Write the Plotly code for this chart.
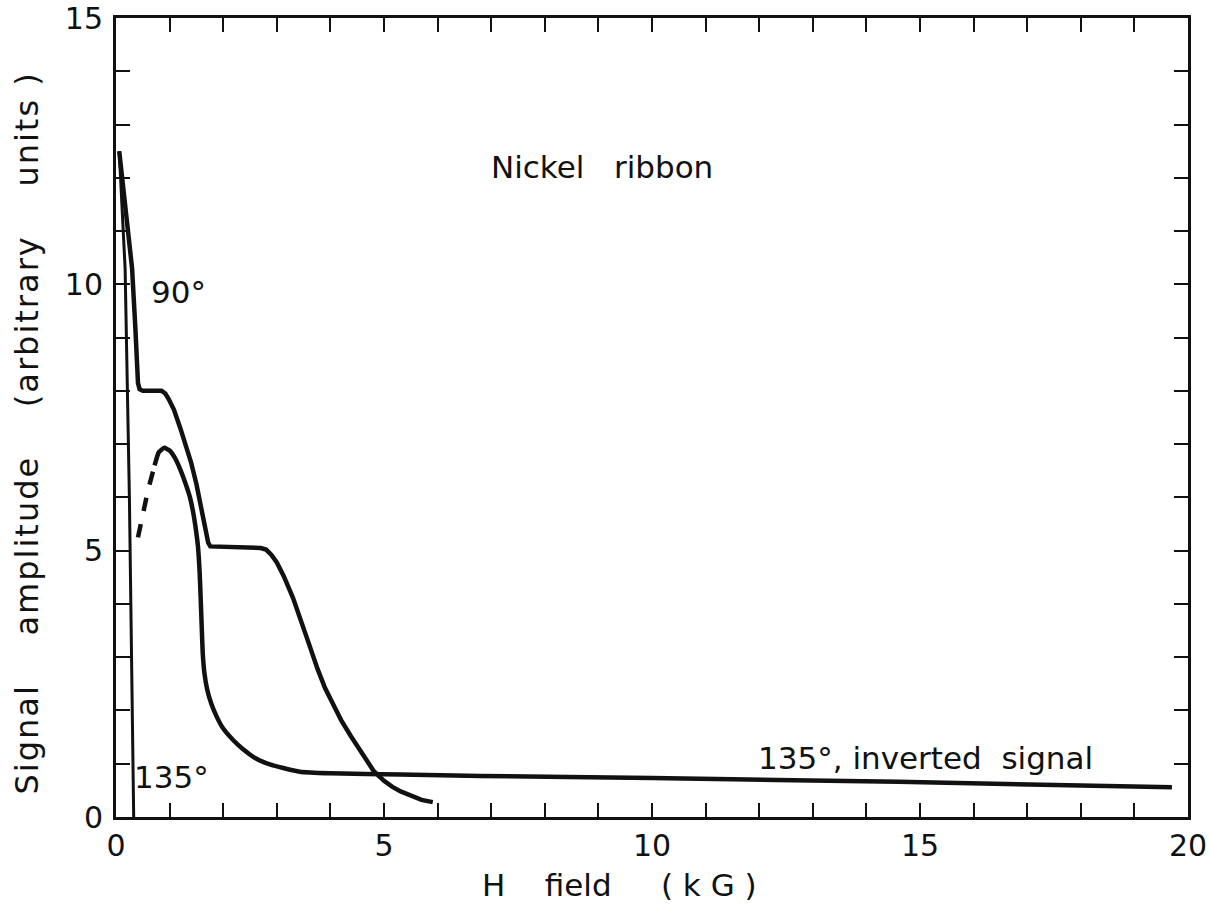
import plotly.graph_objects as go

# 90 degree curve
x_90 = [0.06, 0.18, 0.30, 0.36, 0.41, 0.44, 0.50, 0.85, 0.92, 0.98, 1.08, 1.20, 1.30, 1.40, 1.50, 1.58, 1.66, 1.72, 1.76,
        2.20, 2.70, 2.80, 2.90, 3.00, 3.13, 3.30, 3.45, 3.60, 3.76, 3.90, 4.07, 4.20, 4.38, 4.60, 4.81, 5.00, 5.15, 5.31, 5.50, 5.70, 5.91]
y_90 = [12.5, 11.4, 10.3, 9.2, 8.15, 8.03, 8.0, 8.0, 7.95, 7.85, 7.65, 7.30, 7.00, 6.66, 6.25, 5.85, 5.45, 5.15, 5.08,
        5.07, 5.05, 5.02, 4.92, 4.78, 4.52, 4.12, 3.71, 3.25, 2.78, 2.42, 2.08, 1.82, 1.52, 1.17, 0.86, 0.68, 0.57, 0.48, 0.40, 0.32, 0.28]

# 135 degree curve near zero field
x_135_low = [0.06, 0.17, 0.25, 0.31, 0.33]
y_135_low = [12.5, 10.3, 6.0, 2.0, 0.0]

# 135 degree, inverted signal (dashed start)
x_inv_dash = [0.41, 0.50, 0.60, 0.72]
y_inv_dash = [5.25, 5.70, 6.15, 6.60]

x_inv = [0.72, 0.80, 0.90, 1.00, 1.10, 1.20, 1.30, 1.38, 1.44, 1.49, 1.53, 1.56, 1.58, 1.60, 1.62, 1.65, 1.70, 1.78, 1.88, 2.00, 2.18, 2.36, 2.56, 2.80, 3.12, 3.43, 4.00, 5.30, 6.80, 10.0, 14.6, 19.7]
y_inv = [6.60, 6.85, 6.93, 6.88, 6.74, 6.52, 6.25, 6.00, 5.72, 5.40, 5.07, 4.60, 4.10, 3.55, 3.05, 2.70, 2.40, 2.12, 1.88, 1.66, 1.45, 1.28, 1.13, 1.01, 0.92, 0.85, 0.82, 0.80, 0.77, 0.73, 0.66, 0.56]

x_ticks = [0, 5, 10, 15, 20]
y_ticks = [0, 5, 10, 15]

FONT = "DejaVu Sans, sans-serif"
ink = "#111111"
NB = "\u00a0"

fig = go.Figure()
fig.add_trace(go.Scatter(x=x_90, y=y_90, mode="lines", line=dict(color=ink, width=4.5), showlegend=False))
fig.add_trace(go.Scatter(x=x_135_low, y=y_135_low, mode="lines", line=dict(color=ink, width=3), showlegend=False))
fig.add_trace(go.Scatter(x=x_inv_dash, y=y_inv_dash, mode="lines", line=dict(color=ink, width=4.5, dash="dash"), showlegend=False))
fig.add_trace(go.Scatter(x=x_inv, y=y_inv, mode="lines", line=dict(color=ink, width=4.5, shape="spline", smoothing=0.5), showlegend=False))

axis_common = dict(
    showgrid=False, zeroline=False, showline=True, linecolor=ink, linewidth=3,
    mirror="allticks", ticks="inside", ticklen=14, tickwidth=2, tickcolor=ink,
    tickfont=dict(family=FONT, size=30, color=ink), automargin=False,
)
minor = dict(dtick=1, ticks="inside", ticklen=14, tickwidth=2, tickcolor=ink)
fig.update_xaxes(range=[0, 20], tickvals=x_ticks, ticktext=[str(v) for v in x_ticks], minor=minor, **axis_common)
fig.update_yaxes(range=[0, 15], tickvals=y_ticks, ticktext=[str(v) for v in y_ticks], minor=minor,
                 ticklabelstandoff=4, **axis_common)

ann_font = dict(family=FONT, size=31, color=ink)
annotations = [
    dict(x=9.07, y=12.2, text="Nickel" + NB * 3 + "ribbon", showarrow=False, font=ann_font),
    dict(x=1.16, y=9.85, text="90°", showarrow=False, font=ann_font),
    dict(x=1.03, y=0.75, text="135°", showarrow=False, font=ann_font),
    dict(x=15.1, y=1.1, text="135°, inverted" + NB * 2 + "signal", showarrow=False, font=ann_font),
    dict(xref="paper", yref="paper", x=0.470, y=-0.085, yanchor="middle",
         text="H" + NB * 4 + "field" + NB * 5 + "( k G )", showarrow=False, font=ann_font),
    dict(xref="paper", yref="paper", x=-0.083, y=0.48, xanchor="center", yanchor="middle",
         text='<span style="letter-spacing:2px">Signal' + NB * 4 + "amplitude" + NB * 4 + "(arbitrary" + NB * 4 + "units )</span>",
         textangle=-90, showarrow=False, font=dict(family=FONT, size=32, color=ink)),
]
fig.update_layout(
    width=1209, height=911,
    margin=dict(l=116, r=21, t=18, b=94),
    paper_bgcolor="white", plot_bgcolor="white",
    annotations=annotations,
)
fig.write_html("out.html", config={"displayModeBar": False},
               post_script="document.body.style.margin='0';")
